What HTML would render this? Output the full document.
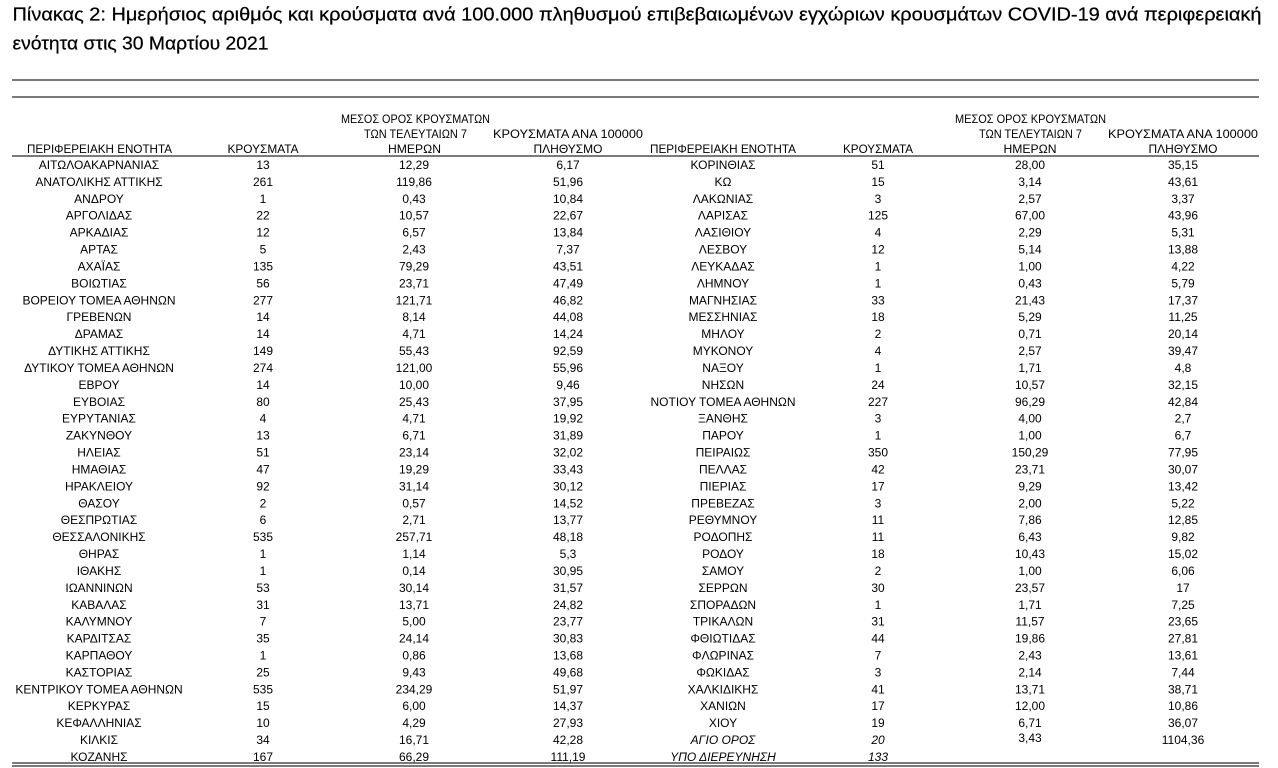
<!DOCTYPE html>
<html><head><meta charset="utf-8"><style>
html,body{margin:0;padding:0;background:#fff;width:1278px;height:768px;overflow:hidden}
svg{display:block}
text{font-family:"Liberation Sans",Arial,sans-serif;fill:#000}
.t{font-size:12px;text-anchor:middle}
.i{font-style:italic}
.ttl{stroke:#000;stroke-width:0.25px}
</style></head><body>
<svg width="1278" height="768" viewBox="0 0 1278 768" xmlns="http://www.w3.org/2000/svg">
<text class="ttl" x="12.5" y="20.7" font-size="18.8" textLength="1249" lengthAdjust="spacingAndGlyphs">Πίνακας 2: Ημερήσιος αριθμός και κρούσματα ανά 100.000 πληθυσμού επιβεβαιωμένων εγχώριων κρουσμάτων COVID-19 ανά περιφερειακή</text>
<text class="ttl" x="12.5" y="49.3" font-size="18.8" textLength="256" lengthAdjust="spacingAndGlyphs">ενότητα στις 30 Μαρτίου 2021</text>
<g stroke="#2a2a2a" stroke-width="1.3">
<line x1="12" y1="80" x2="1259" y2="80"/>
<line x1="12" y1="97" x2="1259" y2="97"/>
<line x1="12" y1="156" x2="1259" y2="156"/>
<line x1="12" y1="763" x2="1259" y2="763"/>
<line x1="12" y1="766" x2="1259" y2="766"/>
</g>
<g class="t">
<text x="415.5" y="123" textLength="149" lengthAdjust="spacingAndGlyphs">ΜΕΣΟΣ ΟΡΟΣ ΚΡΟΥΣΜΑΤΩΝ</text>
<text x="415.5" y="138" textLength="103" lengthAdjust="spacingAndGlyphs">ΤΩΝ ΤΕΛΕΥΤΑΙΩΝ 7</text>
<text x="99.5" y="153" textLength="145" lengthAdjust="spacingAndGlyphs">ΠΕΡΙΦΕΡΕΙΑΚΗ ΕΝΟΤΗΤΑ</text>
<text x="263" y="153" textLength="71" lengthAdjust="spacingAndGlyphs">ΚΡΟΥΣΜΑΤΑ</text>
<text x="414.5" y="153" textLength="53" lengthAdjust="spacingAndGlyphs">ΗΜΕΡΩΝ</text>
<text x="568" y="138" textLength="150" lengthAdjust="spacingAndGlyphs">ΚΡΟΥΣΜΑΤΑ ΑΝΑ 100000</text>
<text x="568" y="153">ΠΛΗΘΥΣΜΟ</text>
<text x="1030.5" y="123" textLength="151" lengthAdjust="spacingAndGlyphs">ΜΕΣΟΣ ΟΡΟΣ ΚΡΟΥΣΜΑΤΩΝ</text>
<text x="1030.5" y="138" textLength="103" lengthAdjust="spacingAndGlyphs">ΤΩΝ ΤΕΛΕΥΤΑΙΩΝ 7</text>
<text x="723" y="153" textLength="146" lengthAdjust="spacingAndGlyphs">ΠΕΡΙΦΕΡΕΙΑΚΗ ΕΝΟΤΗΤΑ</text>
<text x="878" y="153" textLength="70" lengthAdjust="spacingAndGlyphs">ΚΡΟΥΣΜΑΤΑ</text>
<text x="1030" y="153" textLength="53" lengthAdjust="spacingAndGlyphs">ΗΜΕΡΩΝ</text>
<text x="1183" y="138" textLength="150" lengthAdjust="spacingAndGlyphs">ΚΡΟΥΣΜΑΤΑ ΑΝΑ 100000</text>
<text x="1183" y="153">ΠΛΗΘΥΣΜΟ</text>
</g>
<g class="t">
<g transform="translate(0,169)"><text x="99">ΑΙΤΩΛΟΑΚΑΡΝΑΝΙΑΣ</text><text x="263">13</text><text x="414">12,29</text><text x="568">6,17</text><text x="723">ΚΟΡΙΝΘΙΑΣ</text><text x="878">51</text><text x="1030">28,00</text><text x="1183">35,15</text></g>
<g transform="translate(0,185.9)"><text x="99">ΑΝΑΤΟΛΙΚΗΣ ΑΤΤΙΚΗΣ</text><text x="263">261</text><text x="414">119,86</text><text x="568">51,96</text><text x="723">ΚΩ</text><text x="878">15</text><text x="1030">3,14</text><text x="1183">43,61</text></g>
<g transform="translate(0,202.8)"><text x="99">ΑΝΔΡΟΥ</text><text x="263">1</text><text x="414">0,43</text><text x="568">10,84</text><text x="723">ΛΑΚΩΝΙΑΣ</text><text x="878">3</text><text x="1030">2,57</text><text x="1183">3,37</text></g>
<g transform="translate(0,219.7)"><text x="99">ΑΡΓΟΛΙΔΑΣ</text><text x="263">22</text><text x="414">10,57</text><text x="568">22,67</text><text x="723">ΛΑΡΙΣΑΣ</text><text x="878">125</text><text x="1030">67,00</text><text x="1183">43,96</text></g>
<g transform="translate(0,236.7)"><text x="99">ΑΡΚΑΔΙΑΣ</text><text x="263">12</text><text x="414">6,57</text><text x="568">13,84</text><text x="723">ΛΑΣΙΘΙΟΥ</text><text x="878">4</text><text x="1030">2,29</text><text x="1183">5,31</text></g>
<g transform="translate(0,253.6)"><text x="99">ΑΡΤΑΣ</text><text x="263">5</text><text x="414">2,43</text><text x="568">7,37</text><text x="723">ΛΕΣΒΟΥ</text><text x="878">12</text><text x="1030">5,14</text><text x="1183">13,88</text></g>
<g transform="translate(0,270.5)"><text x="99">ΑΧΑΪΑΣ</text><text x="263">135</text><text x="414">79,29</text><text x="568">43,51</text><text x="723">ΛΕΥΚΑΔΑΣ</text><text x="878">1</text><text x="1030">1,00</text><text x="1183">4,22</text></g>
<g transform="translate(0,287.4)"><text x="99">ΒΟΙΩΤΙΑΣ</text><text x="263">56</text><text x="414">23,71</text><text x="568">47,49</text><text x="723">ΛΗΜΝΟΥ</text><text x="878">1</text><text x="1030">0,43</text><text x="1183">5,79</text></g>
<g transform="translate(0,304.3)"><text x="99">ΒΟΡΕΙΟΥ ΤΟΜΕΑ ΑΘΗΝΩΝ</text><text x="263">277</text><text x="414">121,71</text><text x="568">46,82</text><text x="723">ΜΑΓΝΗΣΙΑΣ</text><text x="878">33</text><text x="1030">21,43</text><text x="1183">17,37</text></g>
<g transform="translate(0,321.2)"><text x="99">ΓΡΕΒΕΝΩΝ</text><text x="263">14</text><text x="414">8,14</text><text x="568">44,08</text><text x="723">ΜΕΣΣΗΝΙΑΣ</text><text x="878">18</text><text x="1030">5,29</text><text x="1183">11,25</text></g>
<g transform="translate(0,338.1)"><text x="99">ΔΡΑΜΑΣ</text><text x="263">14</text><text x="414">4,71</text><text x="568">14,24</text><text x="723">ΜΗΛΟΥ</text><text x="878">2</text><text x="1030">0,71</text><text x="1183">20,14</text></g>
<g transform="translate(0,355.1)"><text x="99">ΔΥΤΙΚΗΣ ΑΤΤΙΚΗΣ</text><text x="263">149</text><text x="414">55,43</text><text x="568">92,59</text><text x="723">ΜΥΚΟΝΟΥ</text><text x="878">4</text><text x="1030">2,57</text><text x="1183">39,47</text></g>
<g transform="translate(0,372)"><text x="99">ΔΥΤΙΚΟΥ ΤΟΜΕΑ ΑΘΗΝΩΝ</text><text x="263">274</text><text x="414">121,00</text><text x="568">55,96</text><text x="723">ΝΑΞΟΥ</text><text x="878">1</text><text x="1030">1,71</text><text x="1183">4,8</text></g>
<g transform="translate(0,388.9)"><text x="99">ΕΒΡΟΥ</text><text x="263">14</text><text x="414">10,00</text><text x="568">9,46</text><text x="723">ΝΗΣΩΝ</text><text x="878">24</text><text x="1030">10,57</text><text x="1183">32,15</text></g>
<g transform="translate(0,405.8)"><text x="99">ΕΥΒΟΙΑΣ</text><text x="263">80</text><text x="414">25,43</text><text x="568">37,95</text><text x="723">ΝΟΤΙΟΥ ΤΟΜΕΑ ΑΘΗΝΩΝ</text><text x="878">227</text><text x="1030">96,29</text><text x="1183">42,84</text></g>
<g transform="translate(0,422.7)"><text x="99">ΕΥΡΥΤΑΝΙΑΣ</text><text x="263">4</text><text x="414">4,71</text><text x="568">19,92</text><text x="723">ΞΑΝΘΗΣ</text><text x="878">3</text><text x="1030">4,00</text><text x="1183">2,7</text></g>
<g transform="translate(0,439.6)"><text x="99">ΖΑΚΥΝΘΟΥ</text><text x="263">13</text><text x="414">6,71</text><text x="568">31,89</text><text x="723">ΠΑΡΟΥ</text><text x="878">1</text><text x="1030">1,00</text><text x="1183">6,7</text></g>
<g transform="translate(0,456.5)"><text x="99">ΗΛΕΙΑΣ</text><text x="263">51</text><text x="414">23,14</text><text x="568">32,02</text><text x="723">ΠΕΙΡΑΙΩΣ</text><text x="878">350</text><text x="1030">150,29</text><text x="1183">77,95</text></g>
<g transform="translate(0,473.5)"><text x="99">ΗΜΑΘΙΑΣ</text><text x="263">47</text><text x="414">19,29</text><text x="568">33,43</text><text x="723">ΠΕΛΛΑΣ</text><text x="878">42</text><text x="1030">23,71</text><text x="1183">30,07</text></g>
<g transform="translate(0,490.4)"><text x="99">ΗΡΑΚΛΕΙΟΥ</text><text x="263">92</text><text x="414">31,14</text><text x="568">30,12</text><text x="723">ΠΙΕΡΙΑΣ</text><text x="878">17</text><text x="1030">9,29</text><text x="1183">13,42</text></g>
<g transform="translate(0,507.3)"><text x="99">ΘΑΣΟΥ</text><text x="263">2</text><text x="414">0,57</text><text x="568">14,52</text><text x="723">ΠΡΕΒΕΖΑΣ</text><text x="878">3</text><text x="1030">2,00</text><text x="1183">5,22</text></g>
<g transform="translate(0,524.2)"><text x="99">ΘΕΣΠΡΩΤΙΑΣ</text><text x="263">6</text><text x="414">2,71</text><text x="568">13,77</text><text x="723">ΡΕΘΥΜΝΟΥ</text><text x="878">11</text><text x="1030">7,86</text><text x="1183">12,85</text></g>
<g transform="translate(0,541.1)"><text x="99">ΘΕΣΣΑΛΟΝΙΚΗΣ</text><text x="263">535</text><text x="414">257,71</text><text x="568">48,18</text><text x="723">ΡΟΔΟΠΗΣ</text><text x="878">11</text><text x="1030">6,43</text><text x="1183">9,82</text></g>
<g transform="translate(0,558)"><text x="99">ΘΗΡΑΣ</text><text x="263">1</text><text x="414">1,14</text><text x="568">5,3</text><text x="723">ΡΟΔΟΥ</text><text x="878">18</text><text x="1030">10,43</text><text x="1183">15,02</text></g>
<g transform="translate(0,574.9)"><text x="99">ΙΘΑΚΗΣ</text><text x="263">1</text><text x="414">0,14</text><text x="568">30,95</text><text x="723">ΣΑΜΟΥ</text><text x="878">2</text><text x="1030">1,00</text><text x="1183">6,06</text></g>
<g transform="translate(0,591.9)"><text x="99">ΙΩΑΝΝΙΝΩΝ</text><text x="263">53</text><text x="414">30,14</text><text x="568">31,57</text><text x="723">ΣΕΡΡΩΝ</text><text x="878">30</text><text x="1030">23,57</text><text x="1183">17</text></g>
<g transform="translate(0,608.8)"><text x="99">ΚΑΒΑΛΑΣ</text><text x="263">31</text><text x="414">13,71</text><text x="568">24,82</text><text x="723">ΣΠΟΡΑΔΩΝ</text><text x="878">1</text><text x="1030">1,71</text><text x="1183">7,25</text></g>
<g transform="translate(0,625.7)"><text x="99">ΚΑΛΥΜΝΟΥ</text><text x="263">7</text><text x="414">5,00</text><text x="568">23,77</text><text x="723">ΤΡΙΚΑΛΩΝ</text><text x="878">31</text><text x="1030">11,57</text><text x="1183">23,65</text></g>
<g transform="translate(0,642.6)"><text x="99">ΚΑΡΔΙΤΣΑΣ</text><text x="263">35</text><text x="414">24,14</text><text x="568">30,83</text><text x="723">ΦΘΙΩΤΙΔΑΣ</text><text x="878">44</text><text x="1030">19,86</text><text x="1183">27,81</text></g>
<g transform="translate(0,659.5)"><text x="99">ΚΑΡΠΑΘΟΥ</text><text x="263">1</text><text x="414">0,86</text><text x="568">13,68</text><text x="723">ΦΛΩΡΙΝΑΣ</text><text x="878">7</text><text x="1030">2,43</text><text x="1183">13,61</text></g>
<g transform="translate(0,676.4)"><text x="99">ΚΑΣΤΟΡΙΑΣ</text><text x="263">25</text><text x="414">9,43</text><text x="568">49,68</text><text x="723">ΦΩΚΙΔΑΣ</text><text x="878">3</text><text x="1030">2,14</text><text x="1183">7,44</text></g>
<g transform="translate(0,693.3)"><text x="99">ΚΕΝΤΡΙΚΟΥ ΤΟΜΕΑ ΑΘΗΝΩΝ</text><text x="263">535</text><text x="414">234,29</text><text x="568">51,97</text><text x="723">ΧΑΛΚΙΔΙΚΗΣ</text><text x="878">41</text><text x="1030">13,71</text><text x="1183">38,71</text></g>
<g transform="translate(0,710.2)"><text x="99">ΚΕΡΚΥΡΑΣ</text><text x="263">15</text><text x="414">6,00</text><text x="568">14,37</text><text x="723">ΧΑΝΙΩΝ</text><text x="878">17</text><text x="1030">12,00</text><text x="1183">10,86</text></g>
<g transform="translate(0,727.2)"><text x="99">ΚΕΦΑΛΛΗΝΙΑΣ</text><text x="263">10</text><text x="414">4,29</text><text x="568">27,93</text><text x="723">ΧΙΟΥ</text><text x="878">19</text><text x="1030">6,71</text><text x="1183">36,07</text></g>
<g transform="translate(0,744.1)"><text x="99">ΚΙΛΚΙΣ</text><text x="263">34</text><text x="414">16,71</text><text x="568">42,28</text><text x="723" class="i">ΑΓΙΟ ΟΡΟΣ</text><text x="878" class="i">20</text><text x="1030" y="-2">3,43</text><text x="1183">1104,36</text></g>
<g transform="translate(0,761)"><text x="99">ΚΟΖΑΝΗΣ</text><text x="263">167</text><text x="414">66,29</text><text x="568">111,19</text><text x="723" class="i">ΥΠΟ ΔΙΕΡΕΥΝΗΣΗ</text><text x="878" class="i">133</text></g>
</g>
</svg>
</body></html>
